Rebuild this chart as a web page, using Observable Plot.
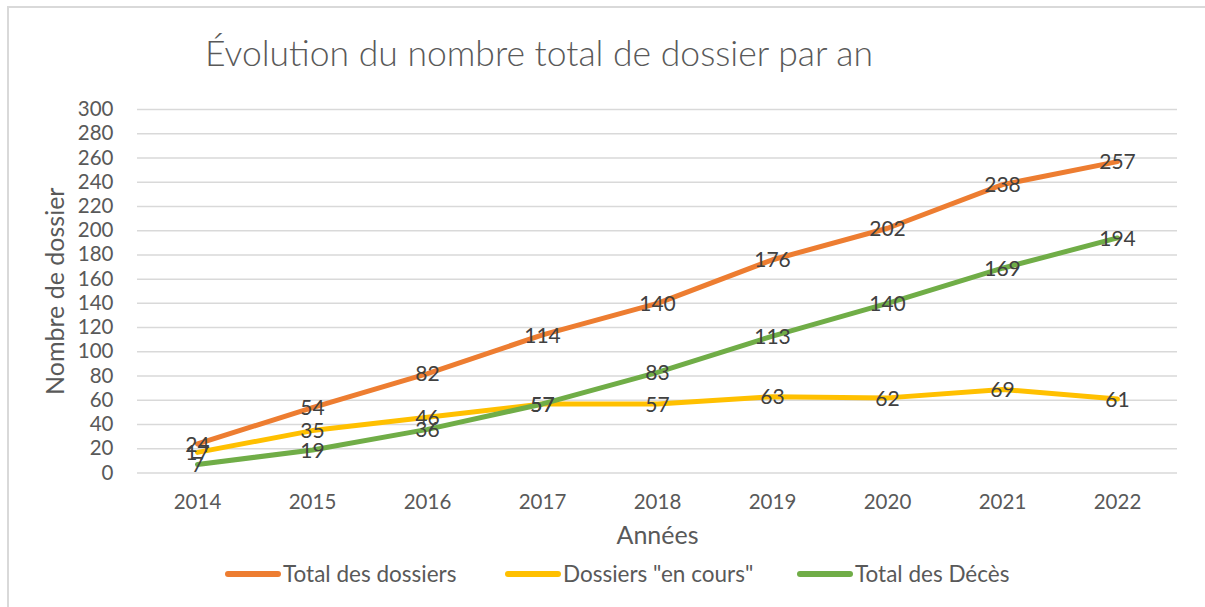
<!DOCTYPE html>
<html>
<head>
<meta charset="utf-8">
<script src="https://cdn.jsdelivr.net/npm/d3@7"></script>
<script src="https://cdn.jsdelivr.net/npm/@observablehq/plot@0.6"></script>
<style>
  body { margin: 0; background: #fff; font-family: Lato, "Open Sans", sans-serif; }
  #wrap { position: relative; width: 1205px; height: 607px; overflow: hidden; }
  #frame { position: absolute; left: 7px; top: 6px; width: 1300px; height: 700px; border-left: 2px solid #d9d9d9; border-top: 2px solid #d9d9d9; }
  #title { position: absolute; left: 205px; top: 31px; font-size: 35.5px; font-weight: 300; color: #595959; white-space: nowrap; }
  #chart { position: absolute; left: 0; top: 0; }
  #legend { position: absolute; top: 560px; left: 0; width: 1205px; height: 28px; font-size: 22.5px; color: #595959; }
  .li { position: absolute; top: 0; display: flex; align-items: center; white-space: nowrap; }
  .sw { width: 56px; height: 6px; border-radius: 3px; margin-right: 2px; }
</style>
</head>
<body>
<div id="wrap">
  <div id="frame"></div>
  <div id="chart"></div>
  <div id="title">Évolution du nombre total de dossier par an</div>
  <div id="legend"></div>
</div>
<script>
const years = ["2014","2015","2016","2017","2018","2019","2020","2021","2022"];
const totalDossiers = [24, 54, 82, 114, 140, 176, 202, 238, 257];
const enCours = [17, 35, 46, 57, 57, 63, 62, 69, 61];
const totalDeces = [7, 19, 36, 57, 83, 113, 140, 169, 194];
const seriesNames = ["Total des dossiers", "Dossiers \"en cours\"", "Total des Décès"];
const seriesColors = ["#ED7D31", "#FFC000", "#70AD47"];
const yTicks = d3.range(0, 301, 20);

const seriesValues = [totalDossiers, enCours, totalDeces];
const data = [];
seriesNames.forEach((s, i) => years.forEach((y, j) => data.push({series: s, year: y, value: seriesValues[i][j]})));

const plot = Plot.plot({
  width: 1205,
  height: 607,
  marginLeft: 137,
  marginRight: 28,
  marginTop: 109,
  marginBottom: 134.5,
  style: { fontFamily: "Lato, 'Open Sans', sans-serif", background: "transparent", overflow: "visible" },
  x: { type: "point", domain: years, padding: 0.5, label: null },
  y: { domain: [0, 300], label: null },
  color: { domain: seriesNames, range: seriesColors },
  marks: [
    Plot.gridY(yTicks, { stroke: "#d9d9d9", strokeOpacity: 1, strokeWidth: 1.5 }),
    Plot.axisY(yTicks, { tickSize: 0, tickPadding: 24, fontSize: 20.5, fill: "#595959", label: null }),
    Plot.axisX({ tickSize: 0, tickPadding: 21, fontSize: 20.5, fill: "#595959", label: null }),
    Plot.line(data, { x: "year", y: "value", z: "series", stroke: "series", strokeWidth: 5, strokeLinecap: "round", strokeLinejoin: "round" }),
    Plot.text(data, { x: "year", y: "value", text: d => String(d.value), fill: "#404040", fontSize: 21, dy: 1 }),
    Plot.text(["Années"], { frameAnchor: "bottom", dy: 71, fontSize: 25, fill: "#595959" }),
    Plot.text(["Nombre de dossier"], { frameAnchor: "left", textAnchor: "middle", dx: -82, rotate: -90, fontSize: 25, fill: "#595959" })
  ]
});
document.getElementById("chart").appendChild(plot);

const legend = document.getElementById("legend");
const lefts = [225, 505, 797];
seriesNames.forEach((s, i) => {
  const el = document.createElement("div");
  el.className = "li";
  el.style.left = lefts[i] + "px";
  el.innerHTML = `<span class="sw" style="background:${seriesColors[i]}"></span><span></span>`;
  el.lastChild.textContent = s;
  legend.appendChild(el);
});
</script>
</body>
</html>
